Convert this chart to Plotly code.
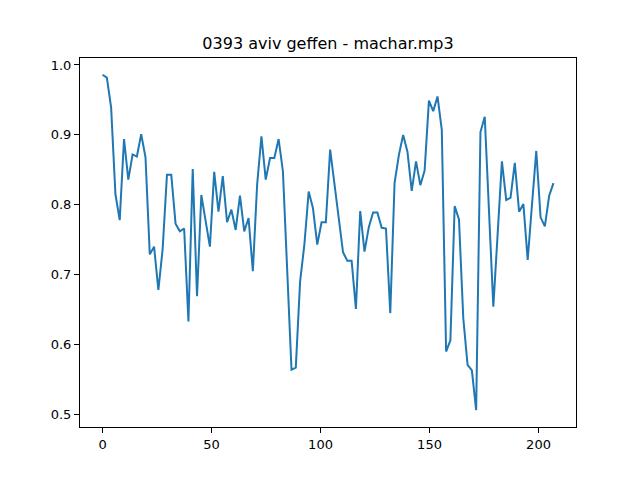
import plotly.graph_objects as go

TITLE = "0393 aviv geffen - machar.mp3"
STEP = 1.97  # spacing between frames on the x axis

values = [
    0.986, 0.982, 0.939, 0.815, 0.778, 0.894, 0.836, 0.872, 0.869, 0.901,
    0.868, 0.729, 0.740, 0.678, 0.737, 0.843, 0.843, 0.773, 0.762, 0.766,
    0.633, 0.851, 0.669, 0.814, 0.777, 0.740, 0.847, 0.790, 0.841, 0.775,
    0.793, 0.764, 0.813, 0.762, 0.781, 0.705, 0.829, 0.898, 0.836, 0.867,
    0.867, 0.894, 0.848, 0.710, 0.564, 0.567, 0.690, 0.743, 0.819, 0.795,
    0.743, 0.775, 0.775, 0.879, 0.829, 0.776, 0.732, 0.720, 0.720, 0.651,
    0.791, 0.733, 0.768, 0.789, 0.789, 0.767, 0.766, 0.645, 0.831, 0.871,
    0.900, 0.876, 0.820, 0.862, 0.828, 0.849, 0.949, 0.934, 0.955, 0.907,
    0.590, 0.606, 0.798, 0.779, 0.638, 0.571, 0.563, 0.506, 0.904, 0.926,
    0.790, 0.654, 0.758, 0.862, 0.807, 0.810, 0.860, 0.790, 0.801, 0.721,
    0.800, 0.877, 0.782, 0.769, 0.813, 0.831,
]
frames = [i * STEP for i in range(len(values))]

x_ticks = [0, 50, 100, 150, 200]
y_ticks = [0.5, 0.6, 0.7, 0.8, 0.9, 1.0]

fig = go.Figure()
fig.add_trace(go.Scatter(x=frames, y=values, mode='lines',
                         line=dict(color='#1f77b4', width=2)))

# matplotlib-like 5% margins around the data
xspan = max(frames) - min(frames)
yspan = max(values) - min(values)
axis_style = dict(showgrid=False, zeroline=False, showline=True, linecolor='black',
                  linewidth=1, mirror=True, ticks='outside', ticklen=5, tickwidth=1,
                  tickcolor='black', tickfont=dict(family='DejaVu Sans', size=13, color='black'))

fig.update_xaxes(range=[min(frames) - 0.05 * xspan, max(frames) + 0.05 * xspan],
                 tickvals=x_ticks, **axis_style)
fig.update_yaxes(range=[min(values) - 0.05 * yspan, max(values) + 0.05 * yspan],
                 tickvals=y_ticks, tickformat='.1f', **axis_style)

# the page body adds 8px on the top and left, so margins are shifted by that
fig.update_layout(
    width=640, height=480,
    margin=dict(l=72, r=72, t=50, b=61),
    paper_bgcolor='white', plot_bgcolor='white',
    showlegend=False,
    title=dict(text=TITLE, x=0.5, xref='paper', y=1 - 35 / 480, yanchor='middle',
               font=dict(family='DejaVu Sans', size=16, color='black')),
)

fig.write_html("out.html")
